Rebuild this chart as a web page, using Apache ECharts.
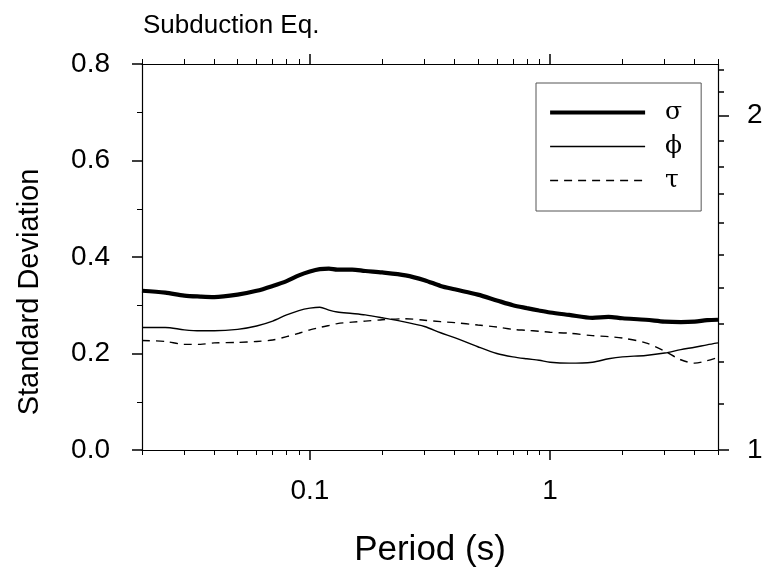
<!DOCTYPE html>
<html>
<head>
<meta charset="utf-8">
<script src="https://cdn.jsdelivr.net/npm/echarts@6/dist/echarts.min.js"></script>
<style>html,body{margin:0;padding:0;background:#fff}#c{width:769px;height:567px}</style>
</head>
<body>
<div id="c"></div>
<script>
// Periods (s)
const periods = [0.02,0.025,0.03,0.035,0.04,0.05,0.06,0.07,0.08,0.09,0.1,0.11,0.12,0.13,0.15,0.17,0.2,0.25,0.3,0.35,0.4,0.5,0.6,0.7,0.8,0.9,1,1.2,1.5,1.75,2,2.5,3,3.5,4,4.5,5];
const sigma = [0.330,0.326,0.320,0.318,0.317,0.322,0.330,0.340,0.350,0.362,0.370,0.375,0.376,0.374,0.374,0.371,0.368,0.362,0.352,0.340,0.333,0.322,0.310,0.300,0.294,0.289,0.285,0.280,0.274,0.276,0.273,0.270,0.266,0.265,0.266,0.269,0.270];
const phi   = [0.254,0.254,0.249,0.247,0.247,0.250,0.257,0.267,0.280,0.289,0.294,0.296,0.290,0.286,0.283,0.280,0.274,0.265,0.256,0.243,0.233,0.214,0.200,0.193,0.189,0.186,0.182,0.180,0.182,0.189,0.193,0.196,0.201,0.208,0.213,0.218,0.222];
const tau   = [0.227,0.225,0.219,0.219,0.222,0.223,0.225,0.228,0.235,0.242,0.249,0.254,0.258,0.262,0.265,0.267,0.270,0.272,0.269,0.266,0.264,0.259,0.255,0.250,0.248,0.246,0.244,0.242,0.237,0.235,0.232,0.222,0.205,0.187,0.180,0.185,0.192];
const seriesNames = ['σ','ϕ','τ'];

// Axis ticks
const xMajorTicks = [0.1, 1];
const xMajorLabels = ['0.1', '1'];
const xMinorTicks = [0.02,0.03,0.04,0.05,0.06,0.07,0.08,0.09,0.2,0.3,0.4,0.5,0.6,0.7,0.8,0.9,2,3,4,5];
const yTickLabels = ['0.0','0.2','0.4','0.6','0.8'];
const rightMajorTicks = [1, 2];
const rightMajorLabels = ['1', '2'];
const rightMinorTicks = [1.1,1.2,1.3,1.4,1.5,1.6,1.7,1.8,1.9,2.1,2.2];

const FONT = '"Liberation Sans", Arial, sans-serif';
const black = '#000';

function pairs(ys){ return periods.map((p,i)=>[p, ys[i]]); }

const xBase = {type:'log', min:0.02, max:5, gridIndex:0, splitLine:{show:false}, axisPointer:{show:false}};
const rBase = {type:'log', min:1, max:Math.exp(0.8), gridIndex:0, splitLine:{show:false}};

const chart = echarts.init(document.getElementById('c'), null, {renderer:'canvas'});
chart.setOption({
  animation:false,
  backgroundColor:'#fff',
  title:{text:'Subduction Eq.', left:143, top:13, padding:0, textStyle:{fontFamily:FONT, fontSize:26, fontWeight:'normal', color:black}},
  grid:{left:142, right:51, top:64, bottom:117, containLabel:false, outerBoundsMode:'none'},
  legend:{
    orient:'vertical', left:536, top:83,
    itemWidth:95, itemHeight:14, itemGap:9,
    padding:[17,19,18,12],
    borderColor:'#555', borderWidth:1, backgroundColor:'#fff',
    itemStyle:{opacity:0, borderWidth:0},
    lineStyle:{width:'inherit'},
    textStyle:{fontFamily:'"DejaVu Serif","Liberation Serif",serif', fontSize:25, lineHeight:24, color:black, padding:[0,0,0,15]},
    data:seriesNames
  },
  xAxis:[
    Object.assign({}, xBase, {position:'bottom',
      name:'Period (s)', nameLocation:'middle', nameGap:83,
      nameTextStyle:{fontFamily:FONT, fontSize:35, color:black},
      axisLine:{show:true, lineStyle:{color:black, width:1.2}},
      axisTick:{show:true, inside:false, length:10, customValues:xMajorTicks, lineStyle:{color:black, width:1.5}},
      axisLabel:{show:true, margin:27, customValues:xMajorTicks, fontFamily:FONT, fontSize:28, color:black,
        formatter:(v)=>xMajorLabels[xMajorTicks.findIndex(t=>Math.abs(t-v)<1e-9)] ?? ''}}),
    Object.assign({}, xBase, {position:'bottom',
      axisLine:{show:false},
      axisTick:{show:true, inside:false, length:5, customValues:xMinorTicks, lineStyle:{color:black, width:1}},
      axisLabel:{show:false}}),
    Object.assign({}, xBase, {position:'top',
      axisLine:{show:true, lineStyle:{color:black, width:1.2}},
      axisTick:{show:true, inside:false, length:10, customValues:xMajorTicks, lineStyle:{color:black, width:1.5}},
      axisLabel:{show:false}}),
    Object.assign({}, xBase, {position:'top',
      axisLine:{show:false},
      axisTick:{show:true, inside:false, length:5, customValues:xMinorTicks, lineStyle:{color:black, width:1}},
      axisLabel:{show:false}})
  ],
  yAxis:[
    {type:'value', position:'left', min:0, max:0.8, interval:0.2, gridIndex:0,
      name:'Standard Deviation', nameLocation:'middle', nameRotate:90, nameGap:98,
      nameTextStyle:{fontFamily:FONT, fontSize:29, color:black, padding:[0,70,0,0]},
      splitLine:{show:false},
      axisLine:{show:true, lineStyle:{color:black, width:1.2}},
      axisTick:{show:true, inside:false, length:10, lineStyle:{color:black, width:1.5}},
      minorTick:{show:true, splitNumber:2, length:5, lineStyle:{color:black, width:1}},
      axisLabel:{margin:32, fontFamily:FONT, fontSize:28, color:black,
        formatter:(v)=>yTickLabels[Math.round(v/0.2)]}},
    Object.assign({}, rBase, {position:'right',
      axisLine:{show:true, lineStyle:{color:black, width:1.2}},
      axisTick:{show:true, inside:false, length:11, customValues:rightMajorTicks, lineStyle:{color:black, width:1.5}},
      axisLabel:{show:true, margin:29, customValues:rightMajorTicks, fontFamily:FONT, fontSize:28, color:black,
        formatter:(v)=>rightMajorLabels[rightMajorTicks.findIndex(t=>Math.abs(t-v)<1e-9)] ?? ''}}),
    Object.assign({}, rBase, {position:'right',
      axisLine:{show:false},
      axisTick:{show:true, inside:false, length:6, customValues:rightMinorTicks, lineStyle:{color:black, width:1.5}},
      axisLabel:{show:false}})
  ],
  series:[
    {name:seriesNames[0], type:'line', xAxisIndex:0, yAxisIndex:0, data:pairs(sigma), showSymbol:false, symbol:'none', smooth:0.3,
      lineStyle:{color:black, width:4.2}, itemStyle:{color:black}},
    {name:seriesNames[1], type:'line', xAxisIndex:0, yAxisIndex:0, data:pairs(phi), showSymbol:false, symbol:'none', smooth:0.3,
      lineStyle:{color:black, width:1.4}, itemStyle:{color:black}},
    {name:seriesNames[2], type:'line', xAxisIndex:0, yAxisIndex:0, data:pairs(tau), showSymbol:false, symbol:'none', smooth:0.3,
      lineStyle:{color:black, width:1.4, type:[8,6]}, itemStyle:{color:black}}
  ]
});
</script>
</body>
</html>
